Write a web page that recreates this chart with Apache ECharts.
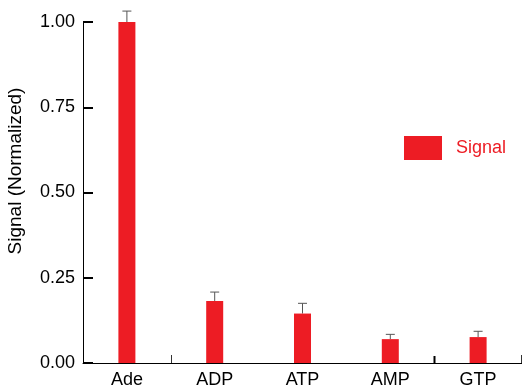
<!DOCTYPE html>
<html><head><meta charset="utf-8">
<script src="https://cdn.jsdelivr.net/npm/echarts@6/dist/echarts.min.js"></script>
<style>html,body{margin:0;padding:0;background:#fff}#c{width:522px;height:385px}</style>
</head><body><div id="c"></div>
<script>
const categories = ['Ade', 'ADP', 'ATP', 'AMP', 'GTP'];
const signal = [1.00, 0.182, 0.145, 0.070, 0.076];
const errorUpper = [1.032, 0.208, 0.175, 0.084, 0.093];
const yTicks = [0, 0.25, 0.5, 0.75, 1.0];
// x-axis tick marks drawn at the left boundary of these categories (last one: right end of axis)
const xTickBefore = ['ADP', 'GTP', null];

const chart = echarts.init(document.getElementById('c'));
const font = 'Liberation Sans, Arial, sans-serif';
chart.setOption({
  animation: false,
  grid: {left: 83, right: 0, top: 22, bottom: 22, outerBoundsMode: 'none', containLabel: false},
  legend: {
    data: ['Signal'], left: 404, top: 136, padding: 0, itemWidth: 38, itemHeight: 24,
    textStyle: {color: '#ED1C24', fontSize: 18, fontFamily: font, padding: [0, 0, 0, 9]}, icon: 'rect'
  },
  xAxis: {
    type: 'category', data: categories,
    axisLine: {lineStyle: {color: '#000', width: 1}},
    axisTick: {show: false},
    axisLabel: {color: '#000', fontSize: 18, fontFamily: font, margin: 8}
  },
  yAxis: {
    type: 'value', min: 0, max: 1, interval: 0.25,
    name: 'Signal (Normalized)', nameLocation: 'middle', nameGap: 58,
    nameTextStyle: {color: '#000', fontSize: 19, fontFamily: font, padding: [0, 0, 0, 43]},
    axisLine: {show: true, lineStyle: {color: '#000'}},
    axisTick: {show: true, inside: true, length: 10, lineStyle: {color: '#000', width: 2}},
    axisLabel: {color: '#000', fontSize: 18, fontFamily: font, margin: 8,
      formatter: v => yTicks.includes(v) ? v.toFixed(2) : ''},
    splitLine: {show: false}
  },
  series: [
    {name: 'Signal', type: 'bar', data: signal, barWidth: 17, itemStyle: {color: '#ED1C24'}},
    {type: 'custom', clip: false, z: 1,
      data: categories.map((c, i) => [i, signal[i], errorUpper[i]]),
      renderItem: (params, api) => {
        const base = api.coord([api.value(0), api.value(1)]);
        const top = api.coord([api.value(0), api.value(2)]);
        const s = {stroke: '#555', lineWidth: 1};
        return {type: 'group', children: [
          {type: 'line', shape: {x1: base[0], y1: base[1], x2: top[0], y2: top[1]}, style: s},
          {type: 'line', shape: {x1: top[0] - 4.5, y1: top[1], x2: top[0] + 4.5, y2: top[1]}, style: s}
        ]};
      }},
    {type: 'custom', clip: false, z: 3, silent: true,
      data: xTickBefore.map(c => [c === null ? categories.length - 1 : categories.indexOf(c), c === null ? 1 : -1]),
      renderItem: (params, api) => {
        const p = api.coord([api.value(0), 0]);
        const half = api.size([1, 0])[0] / 2;
        const x = Math.round(p[0] + api.value(1) * half) - (api.value(1) > 0 ? 1 : 0);
        const thick = params.dataIndex === 1;
        return {type: 'line', shape: {x1: x + 0.5, y1: p[1], x2: x + 0.5, y2: p[1] - (thick ? 7 : 8)},
          style: {stroke: thick ? '#000' : '#333', lineWidth: thick ? 2 : 1}};
      }}
  ]
});
</script></body></html>
